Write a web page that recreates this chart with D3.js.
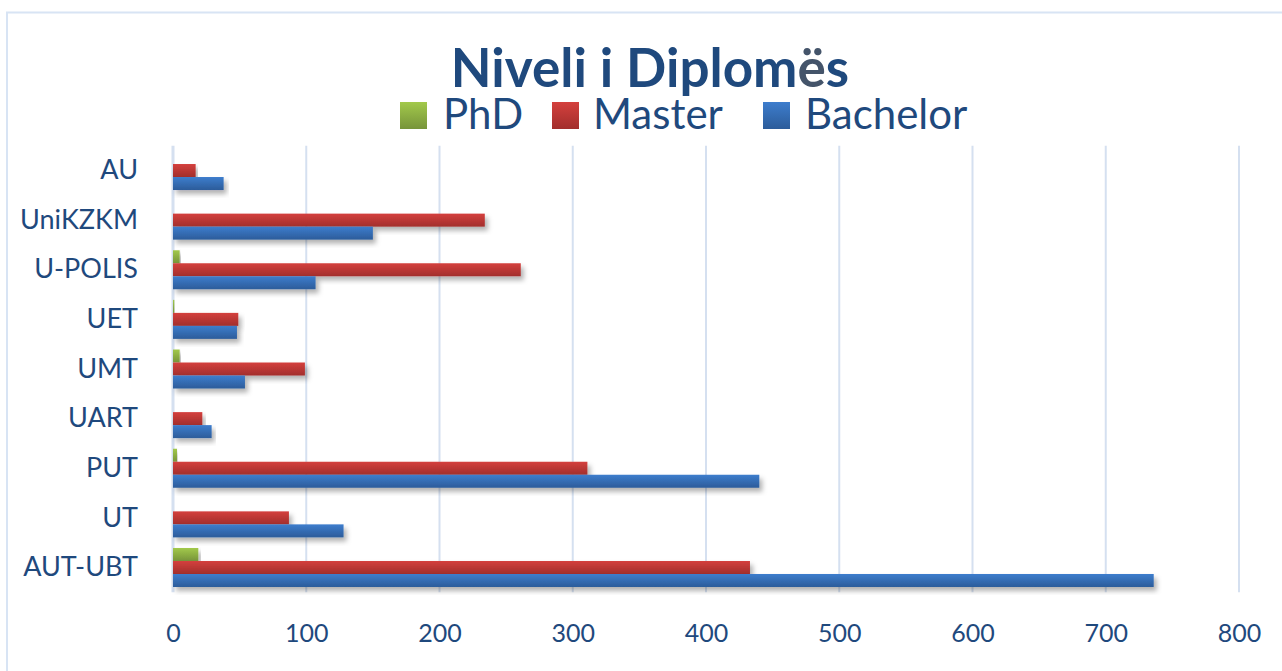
<!DOCTYPE html>
<html>
<head>
<meta charset="utf-8">
<script src="https://cdn.jsdelivr.net/npm/d3@7"></script>
<style>
  body { margin: 0; background: #fff; }
  svg text { font-family: Lato, "Open Sans", sans-serif; }
</style>
</head>
<body>
<svg id="chart"></svg>
<script>
// data
const categories = ["AU", "UniKZKM", "U-POLIS", "UET", "UMT", "UART", "PUT", "UT", "AUT-UBT"];
const series = ["PhD", "Master", "Bachelor"];
const phd      = [0, 0, 5, 1, 5, 0, 3, 0, 19];
const master   = [17, 234, 261, 49, 99, 22, 311, 87, 433];
const bachelor = [38, 150, 107, 48, 54, 29, 440, 128, 736];
const xTicks = [0, 100, 200, 300, 400, 500, 600, 700, 800];

const W = 1282, H = 671;
const plot = { left: 173, right: 1239, top: 145.7, bottom: 592.3 };

const textBlue = "#1F497D";
const gridColor = "#D5E0F0";

// colours per series: [top, bottom] of the gradient
const seriesColors = {
    PhD: ["#A2C94B", "#77943A"],
    Master: ["#D4403D", "#A22E2C"],
    Bachelor: ["#3D7DCD", "#2C5C9A"]
};

const svg = d3.select("#chart")
    .attr("width", W)
    .attr("height", H);

const defs = svg.append("defs");

series.forEach(s => {
    const g = defs.append("linearGradient")
        .attr("id", "grad-" + s)
        .attr("x1", 0).attr("y1", 0)
        .attr("x2", 0).attr("y2", 1);
    g.append("stop").attr("offset", "0%").attr("stop-color", seriesColors[s][0]);
    g.append("stop").attr("offset", "100%").attr("stop-color", seriesColors[s][1]);
});

const shadow = defs.append("filter")
    .attr("id", "shadow")
    .attr("x", "-5%").attr("y", "-30%")
    .attr("width", "115%").attr("height", "190%");
shadow.append("feDropShadow")
    .attr("dx", 3).attr("dy", 4)
    .attr("stdDeviation", 2.5)
    .attr("flood-color", "#000")
    .attr("flood-opacity", 0.3);

// outer frame
svg.append("rect")
    .attr("x", 7).attr("y", 12.5)
    .attr("width", W + 20).attr("height", H + 20)
    .attr("fill", "#fff")
    .attr("stroke", "#D8E4F4")
    .attr("stroke-width", 2);

// scales
const x = d3.scaleLinear()
    .domain([0, 800])
    .range([plot.left, plot.right]);

const y0 = d3.scaleBand()
    .domain(categories)
    .range([plot.top, plot.bottom])
    .paddingInner(0.214)
    .paddingOuter(0.107);

const y1 = d3.scaleBand()
    .domain(series)
    .range([0, y0.bandwidth()]);

// gridlines
svg.append("g")
    .attr("class", "grid")
    .selectAll("line")
    .data(xTicks)
    .enter()
    .append("line")
    .attr("x1", d => x(d)).attr("x2", d => x(d))
    .attr("y1", plot.top).attr("y2", plot.bottom)
    .attr("stroke", gridColor)
    .attr("stroke-width", d => d === 0 ? 3 : 2);

// bars
const values = { PhD: phd, Master: master, Bachelor: bachelor };
const rows = categories.flatMap((c, i) => series.map(s => ({ cat: c, type: s, value: values[s][i] })));

svg.append("g")
    .attr("class", "bars")
    .selectAll("rect")
    .data(rows.filter(d => d.value > 0))
    .enter()
    .append("rect")
    .attr("x", x(0))
    .attr("y", d => y0(d.cat) + y1(d.type))
    .attr("width", d => x(d.value) - x(0))
    .attr("height", y1.bandwidth())
    .attr("fill", d => `url(#grad-${d.type})`)
    .attr("filter", "url(#shadow)");

// bottom axis
const xAxis = svg.append("g")
    .attr("class", "x-axis")
    .attr("transform", `translate(0,${plot.bottom})`)
    .call(d3.axisBottom(x).tickValues(xTicks).tickSize(0).tickPadding(32));
xAxis.select(".domain").remove();
xAxis.selectAll("text")
    .attr("font-size", 25)
    .attr("fill", textBlue);

// left axis
const yAxis = svg.append("g")
    .attr("class", "y-axis")
    .attr("transform", `translate(${plot.left},0)`)
    .call(d3.axisLeft(y0).tickSize(0).tickPadding(35));
yAxis.select(".domain").remove();
yAxis.selectAll("text")
    .attr("font-size", 27)
    .attr("fill", textBlue);

// title
const title = svg.append("text")
    .attr("x", 650)
    .attr("y", 87)
    .attr("text-anchor", "middle")
    .attr("font-size", 53)
    .attr("font-weight", "bold")
    .attr("fill", textBlue);
title.append("tspan").text("Niveli i Diplom");
title.append("tspan").attr("fill", "#44546A").text("ë");
title.append("tspan").text("s");

// legend
const legendPos = [
    { sq: 400, tx: 443 },
    { sq: 552, tx: 593 },
    { sq: 763, tx: 805 }
];
const legend = svg.append("g").attr("class", "legend");
series.forEach((s, i) => {
    legend.append("rect")
        .attr("x", legendPos[i].sq)
        .attr("y", 102)
        .attr("width", 27)
        .attr("height", 27)
        .attr("fill", `url(#grad-${s})`);
    legend.append("text")
        .attr("x", legendPos[i].tx)
        .attr("y", 129)
        .attr("font-size", 42)
        .attr("fill", textBlue)
        .text(s);
});
</script>
</body>
</html>
